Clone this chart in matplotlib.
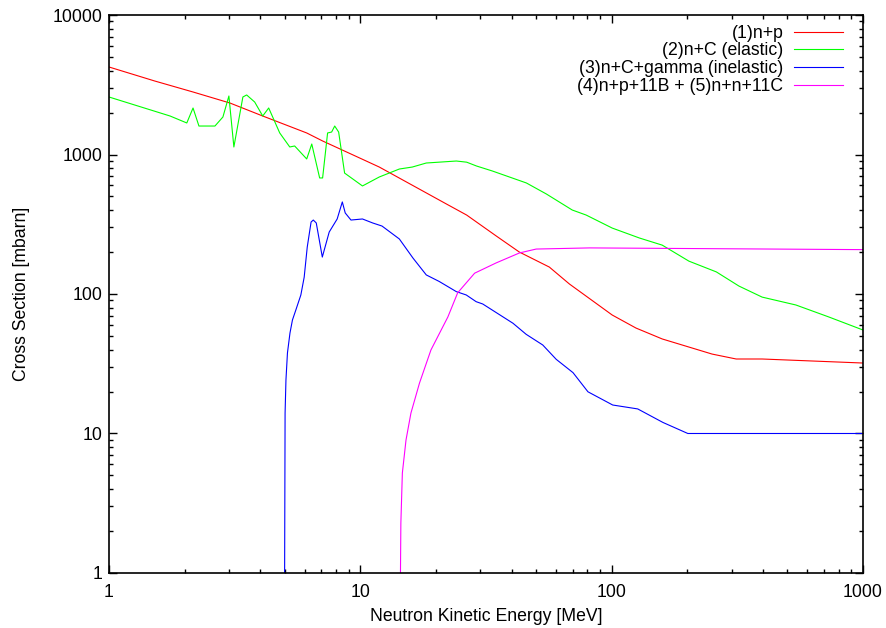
import numpy as np
import matplotlib
matplotlib.use('Agg')
import matplotlib.pyplot as plt
import matplotlib.ticker as ticker

plt.rcParams['font.family'] = ['Liberation Sans', 'DejaVu Sans']
plt.rcParams['font.size'] = 12.7

# (1) n+p
np_E = [1.0, 1.52, 2.16, 3.03, 4.09, 6.12, 7.08, 9.94, 11.9, 22.0, 26.5, 34.8,
        42.9, 56.5, 67.9, 100.5, 125, 159, 251, 313, 397, 1000]
np_xs = [4240, 3365, 2806, 2339, 1888, 1427, 1250, 944, 813, 442, 368, 260,
         200, 156, 118, 70.7, 57, 47.6, 37.1, 34.2, 34.2, 32.0]

# (2) n+C elastic
nc_E = [1.0, 1.75, 2.04, 2.16, 2.28, 2.64, 2.84, 3.00, 3.14, 3.41, 3.53, 3.80,
        4.09, 4.32, 4.78, 5.24, 5.48, 6.12, 6.41, 6.89, 7.08, 7.41, 7.69, 7.91,
        8.20, 8.66, 10.2, 11.9, 14.3, 16.1, 18.3, 24.1, 26.5, 29.0, 33.5, 45.8,
        55.0, 69.7, 79.2, 100.5, 129, 159, 203, 261, 321, 397, 541, 732, 1000]
nc_xs = [2584, 1888, 1683, 2155, 1600, 1600, 1857, 2627, 1132, 2584, 2672, 2378,
         1888, 2155, 1427, 1132, 1151, 929, 1189, 679, 679, 1427, 1449, 1600,
         1449, 736, 595, 690, 787, 813, 869, 898, 881, 827, 762, 625,
         521, 400, 368, 297, 252, 224, 172, 144, 114, 95, 83.4, 68.4, 55.2]

# (3) n+C+gamma inelastic
ncg_E = [4.98, 5.02, 5.06, 5.13, 5.25, 5.37, 5.54, 5.80, 5.98, 6.15, 6.37, 6.50,
         6.68, 7.06, 7.52, 8.09, 8.48, 8.71, 9.18, 10.2, 11.2, 12.2, 14.3, 16.2,
         18.3, 20.6, 24.1, 26.4, 28.9, 30.7, 40.5, 45.7, 53.2, 60.2, 70.2, 80.5,
         101, 127, 160, 201, 1000]
ncg_xs = [0.1, 14, 24.2, 37.8, 52.5, 65.1, 76.8, 98.4, 132, 217, 328, 339,
          323, 184, 278, 345, 457, 381, 339, 345, 323, 307, 248, 181,
          137, 123, 104, 98.4, 88.1, 84.8, 61.7, 51.4, 43.1, 34.0, 27.3, 19.9,
          16.0, 15.0, 12.0, 10.0, 10.0]

# (4) n+p+11B + (5) n+n+11C
nb_E = [14.3, 14.5, 14.7, 15.2, 15.9, 17.2, 19.1, 22.3, 24.4, 28.5, 34.7, 43.0,
        50.1, 81.7, 1000]
nb_xs = [0.1, 2.28, 5.21, 8.98, 14.0, 23.0, 39.7, 68.4, 102, 141, 167, 197,
         210, 214, 208]

labels = ['(1)n+p', '(2)n+C (elastic)', '(3)n+C+gamma (inelastic)',
          '(4)n+p+11B + (5)n+n+11C']
colors = ['#ff0000', '#00ff00', '#0000ff', '#ff00ff']

fig = plt.figure(figsize=(8.86, 6.28), dpi=100)
ax = fig.add_axes([0.123, 0.0876, 0.851, 0.8885])

series = [(np_E, np_xs), (nc_E, nc_xs), (ncg_E, ncg_xs), (nb_E, nb_xs)]
for (E, xs), lab, c in zip(series, labels, colors):
    ax.plot(E, xs, color=c, lw=0.8, label=lab)

ax.set_xscale('log')
ax.set_yscale('log')
ax.set_xlim(1, 1000)
ax.set_ylim(1, 10000)

ax.xaxis.set_major_formatter(ticker.FormatStrFormatter('%g'))
ax.yaxis.set_major_formatter(ticker.FormatStrFormatter('%g'))
ax.xaxis.set_minor_formatter(ticker.NullFormatter())
ax.yaxis.set_minor_formatter(ticker.NullFormatter())
ax.tick_params(which='both', direction='in', top=True, right=True, width=1.0)
ax.tick_params(which='major', length=5.5)
ax.tick_params(which='minor', length=3)
ax.tick_params(axis='x', pad=8)
ax.tick_params(axis='y', pad=5)
for s in ax.spines.values():
    s.set_linewidth(1.2)

ax.set_xlabel('Neutron Kinetic Energy [MeV]', labelpad=5)
ax.set_ylabel('Cross Section [mbarn]', labelpad=16)

# key sits a little in from the right border, text right-aligned before the sample
ax.legend(loc='upper right', bbox_to_anchor=(0.987, 1.0), frameon=False,
          markerfirst=False, handlelength=2.8, handletextpad=0.6,
          labelspacing=0.04, borderaxespad=0.15, fontsize=12.7)

fig.savefig('out.png', dpi=100)
